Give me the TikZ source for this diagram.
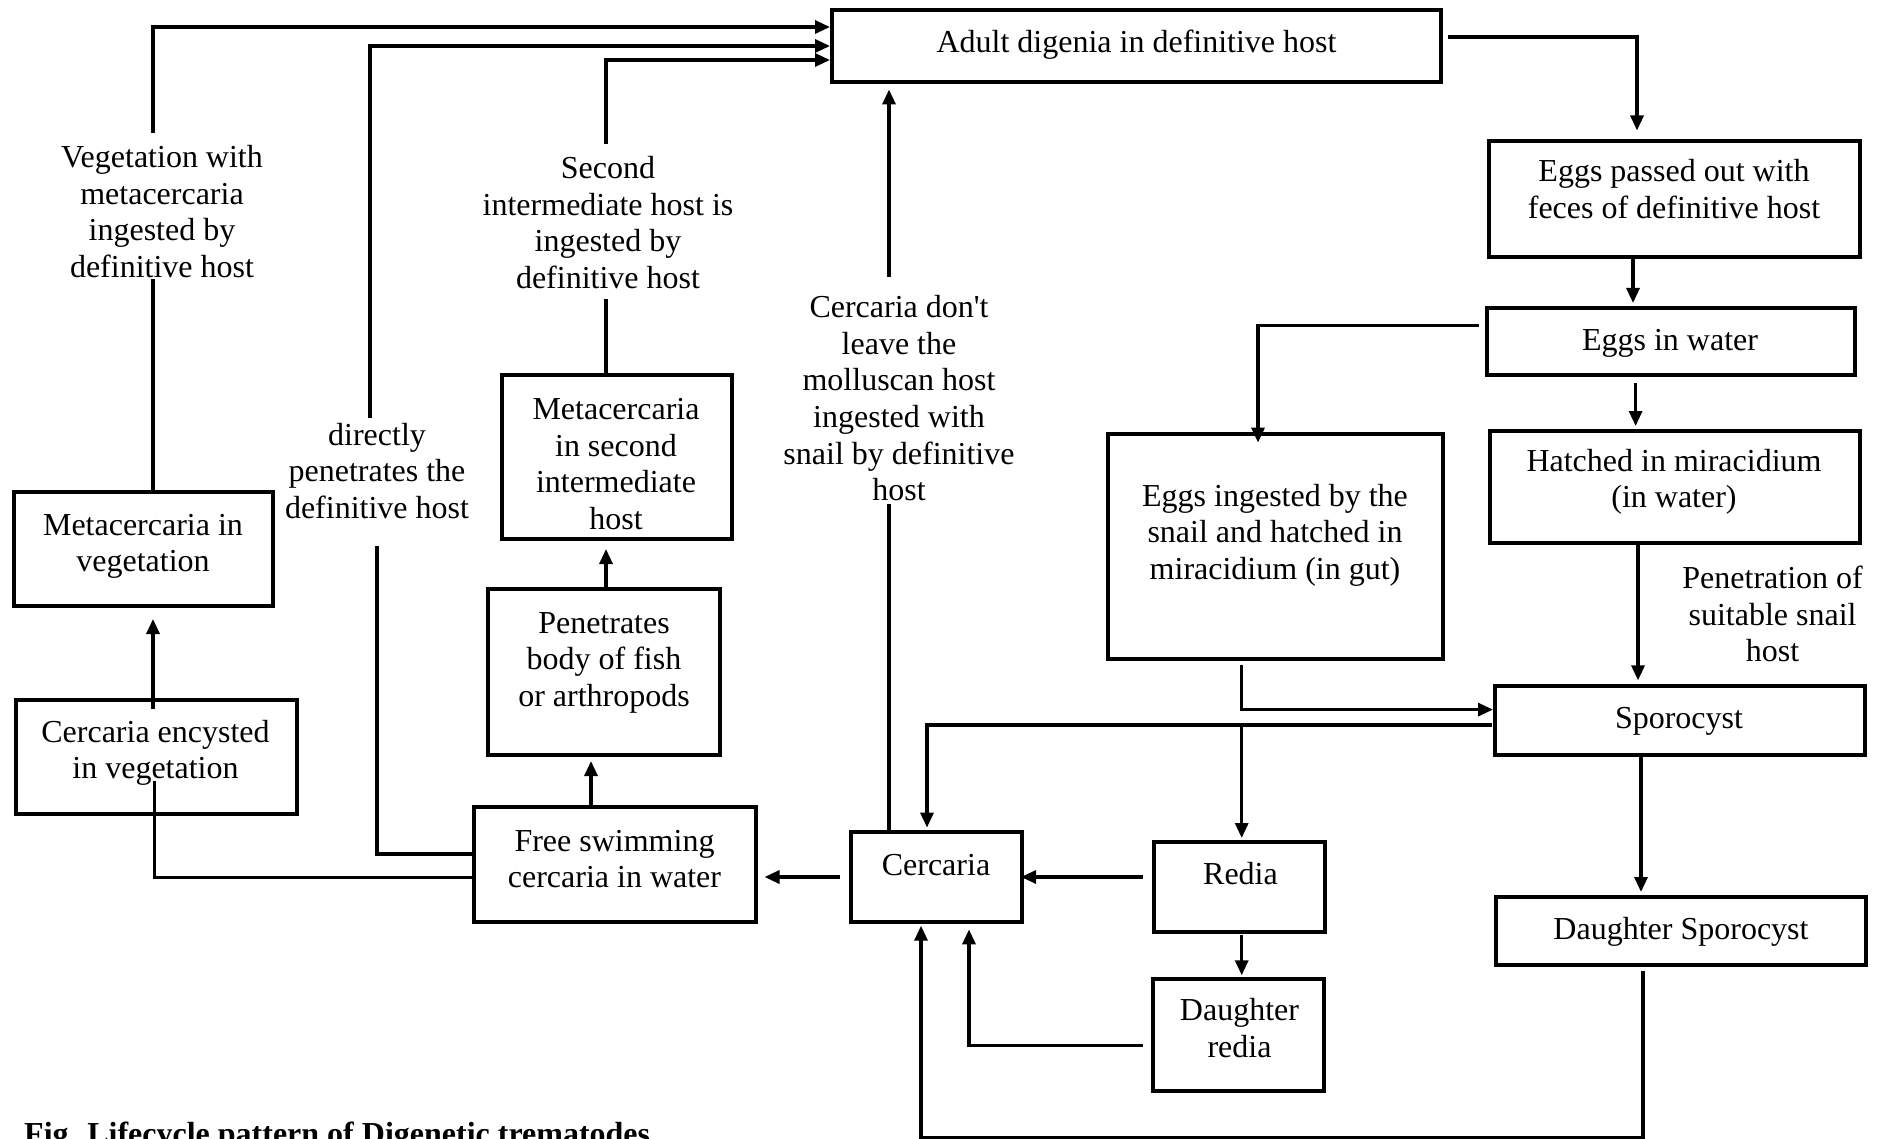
\documentclass[tikz,border=0pt]{standalone}
\usepackage{fontspec}
\setmainfont{Liberation Serif}
\usetikzlibrary{arrows.meta,calc}
\newcommand\dgfont{\fontsize{32}{36.6}\selectfont}
\begin{document}
\begin{tikzpicture}[x=1pt,y=-1pt,
  box/.style={draw, line width=4pt, inner sep=0pt, rectangle},
  txt/.style={font=\dgfont, align=center, inner sep=0pt, anchor=base},
  conn/.style={line width=3.2pt},
  arr/.style={conn, -{Triangle[length=15pt,width=13pt]}}]
\fill[white] (0,0) rectangle (1886,1139);
\useasboundingbox (0,0) rectangle (1886,1139);

% boxes
\node[box, minimum width=609pt, minimum height=72pt]  (adult)    at (1136.5,46)   {};
\node[box, minimum width=371pt, minimum height=116pt] (eggsout)  at (1674.5,199.5){};
\node[box, minimum width=368pt, minimum height=67pt]  (eggswater) at (1671,341.5) {};
\node[box, minimum width=370pt, minimum height=112pt] (hatched)  at (1675,487)    {};
\node[box, minimum width=335pt, minimum height=225pt] (eggsing)  at (1275.5,546.5){};
\node[box, minimum width=370pt, minimum height=69pt]  (sporo)    at (1680,720.5)  {};
\node[box, minimum width=370pt, minimum height=68pt]  (dsporo)   at (1681,931)    {};
\node[box, minimum width=171pt, minimum height=90pt]  (redia)    at (1239.5,887)  {};
\node[box, minimum width=171pt, minimum height=112pt] (dredia)   at (1238.5,1035) {};
\node[box, minimum width=171pt, minimum height=90pt]  (cerc)     at (936.5,877)   {};
\node[box, minimum width=282pt, minimum height=115pt] (free)     at (614.5,864)   {};
\node[box, minimum width=232pt, minimum height=166pt] (pen)      at (604,672)     {};
\node[box, minimum width=230pt, minimum height=164pt] (meta2)    at (616.5,457)   {};
\node[box, minimum width=259pt, minimum height=114pt] (metaveg)  at (143.5,549)   {};
\node[box, minimum width=281pt, minimum height=114pt] (encyst)   at (156.5,757)   {};

% box texts (anchor base = baseline of the last line)
\node[txt] (adult-t)    at (1136.5,53)  {Adult digenia in definitive host};
\node[txt] (eggsout-t)  at (1674,218.6) {Eggs passed out with\\feces of definitive host};
\node[txt] (eggswater-t) at (1670,350)  {Eggs in water};
\node[txt] (hatched-t)  at (1674,507.6) {Hatched in miracidium\\(in water)};
\node[txt] (eggsing-t)  at (1275,579.2) {Eggs ingested by the\\snail and hatched in\\miracidium (in gut)};
\node[txt] (sporo-t)    at (1679,728)   {Sporocyst};
\node[txt] (dsporo-t)   at (1681,939)   {Daughter Sporocyst};
\node[txt] (redia-t)    at (1240.5,884) {Redia};
\node[txt] (dredia-t)   at (1239.5,1057.1) {Daughter\\redia};
\node[txt] (cerc-t)     at (936,875)    {Cercaria};
\node[txt] (free-t)     at (614.5,887.6) {Free swimming\\cercaria in water};
\node[txt] (pen-t)      at (604,706.2)  {Penetrates\\body of fish\\or arthropods};
\node[txt] (meta2-t)    at (616,529.3)  {Metacercaria\\in second\\intermediate\\host};
\node[txt] (metaveg-t)  at (143,571.6)  {Metacercaria in\\vegetation};
\node[txt] (encyst-t)   at (155.5,778.6) {Cercaria encysted\\in vegetation};

% free labels
\node[txt] (vegl) at (162,277.3) {Vegetation with\\metacercaria\\ingested by\\definitive host};
\node[txt] (secl) at (608,288.3) {Second\\intermediate host is\\ingested by\\definitive host};
\node[txt] (dirl) at (377,518.2) {directly\\penetrates the\\definitive host};
\node[txt] (cdl)  at (899,500.6) {Cercaria don\textquotesingle t\\leave the\\molluscan host\\ingested with\\snail by definitive\\host};
\node[txt] (penl) at (1772.6,661.8) {Penetration of\\suitable snail\\host};

% caption (cut by the lower edge)
\node[font=\bfseries\dgfont, anchor=base west, inner sep=0pt] (caption) at (24,1144) {Fig. Lifecycle pattern of Digenetic trematodes};

% free ends of connectors at the labels
\coordinate (vegtop) at (153,133);
\coordinate (vegbot) at (153,279);
\coordinate (dirbot) at (377,546);
\coordinate (dirtop) at (370,418);
\coordinate (secbot) at (606,299);
\coordinate (sectop) at (606,144);
\coordinate (cdbot)  at (889,504);
\coordinate (cdtop)  at (889,277);
\coordinate (encend) at (154.5,781);

% left part
\draw[arr] (vegtop) |- ($(adult.west)+(0,-19)$);
\draw[conn] (metaveg.north -| vegbot) -- (vegbot);
\draw[arr] ($(encyst.north -| vegbot)+(0,11)$) -- ($(metaveg.south -| vegbot)+(0,11)$);
\draw[conn] ($(free.west)+(0,13.6)$) -| (encend);
\draw[conn] ($(free.west)+(0,-10)$) -| (dirbot);
\draw[arr] (dirtop) |- (adult.west);
\draw[conn] (meta2.north -| secbot) -- (secbot);
\draw[arr] (sectop) |- ($(adult.west)+(0,14)$);
\draw[arr] (pen.north -| secbot) -- ($(meta2.south -| secbot)+(0,8)$);
\draw[arr] ($(free.north)+(-23.5,0)$) -- ($(pen.south)+(-13,4)$);
\draw[arr] ($(cerc.west)+(-9,0)$) -- ($(free.east |- cerc.west)+(7,0)$);
\draw[conn] (cerc.north -| cdbot) -- (cdbot);
\draw[arr] (cdtop) -- ($(adult.south -| cdtop)+(0,5.5)$);

% right part
\draw[arr] ($(adult.east)+(5,-9)$) -| ($(eggsout.north)+(-37.5,-9)$);
\draw[arr] ($(eggsout.south)+(-41.5,0)$) -- ($(eggswater.north)+(-38,-3)$);
\draw[arr] ($(eggswater.south)+(-35.4,6)$) -- ($(hatched.north)+(-39.4,-3)$);
\draw[arr] ($(eggswater.west)+(-6,-16)$) -| ($(eggsing.north)+(-17.5,10.6)$);
\draw[arr] ($(hatched.south)+(-37,0)$) -- ($(sporo.north)+(-42,-3.6)$);
\draw[arr] ($(eggsing.south)+(-33.8,3.7)$) |- ($(sporo.west)+(0,-10.9)$);
\draw[arr] ($(sporo.west)+(-1,4.5)$) -| ($(cerc.north)+(-9.5,-2.4)$);
\draw[arr] ($(redia.north |- sporo.west)+(2.2,4.5)$) -- ($(redia.north)+(2.2,-2)$);
\draw[arr] ($(redia.west |- cerc.east)+(-9,0)$) -- ($(cerc.east)+(-3,0)$);
\draw[arr] ($(redia.south)+(2.2,1)$) -- ($(dredia.north)+(3.2,-1.7)$);
\draw[arr] ($(dredia.west)+(-8,10.6)$) -| ($(cerc.south)+(32.5,5.4)$);
\draw[arr] ($(sporo.south)+(-39,0)$) -- ($(dsporo.north)+(-40,-3)$);
\draw[arr] ($(dsporo.south)+(-38,4)$) |- ($(cerc.south)+(-15.5,214)$) -- ($(cerc.south)+(-15.5,1.7)$);
\end{tikzpicture}
\end{document}
